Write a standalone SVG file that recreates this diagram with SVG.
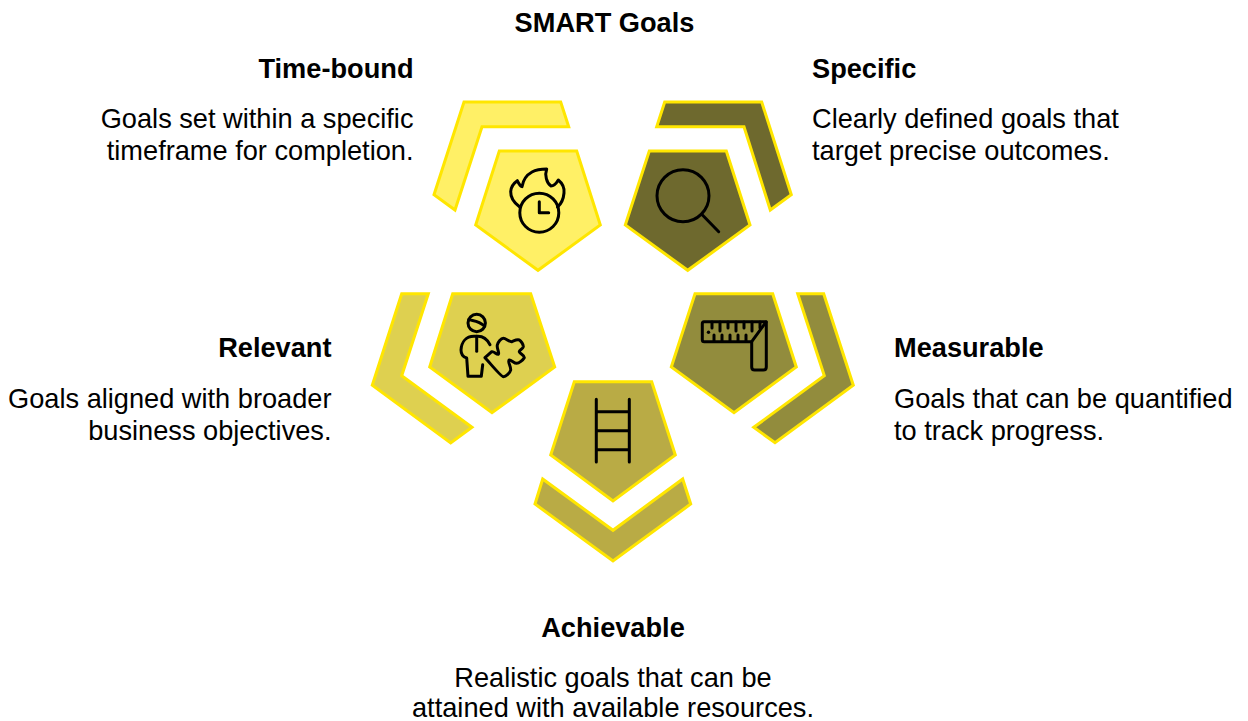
<svg xmlns="http://www.w3.org/2000/svg" width="1248" height="721" viewBox="0 0 1248 721">
<style>
text{font-family:"Liberation Sans",Arial,sans-serif;font-size:27.2px;fill:#000}
.h{font-weight:700}
.e{text-anchor:end}
.m{text-anchor:middle}
.s{stroke:#ffe600;stroke-width:3;stroke-linejoin:miter}
.i{fill:none;stroke:#000;stroke-width:3;stroke-linecap:round;stroke-linejoin:round}
</style>
<rect width="1248" height="721" fill="#fff"/>
<text class="h m" x="604.500" y="31.500">SMART Goals</text>
<g id="time-bound">
<polygon class="s" fill="#fff066" points="464,102 560.7,102 568.7,126.7 482,126.7 455,210 434,194.7"/>
<polygon class="s" fill="#fff066" points="499.3,151 576.7,151 600.3,225 538,270.3 475.7,225"/>
<g class="i"><circle cx="539.3" cy="212.7" r="19.500"/><path d="M539.3 201.7V212.7H548.7"/><path d="M519.500 206.700C513 202 510.500 197 510.700 191.500C511 187 514 183 517.300 180.700C518.500 183 520 186 522 186.700C523 180.500 526.500 175 532 172C536.500 169.500 541.500 169 546.700 169C544.500 175 546.500 183 551 186C554 186 556.500 183 558.300 180C562 183 564.500 188 564 193C563.500 199 561 204 557.500 207"/></g>
<text class="h e" x="413.500" y="78">Time-bound</text>
<text class="e" x="413.500" y="127.500">Goals set within a specific</text>
<text class="e" x="413.500" y="159.500">timeframe for completion.</text>
</g>
<g id="specific">
<polygon class="s" fill="#6e692e" points="664.7,102 761.7,102 791.3,194.7 770.3,210 744,126.7 656.7,126.7"/>
<polygon class="s" fill="#6e692e" points="649.3,151 726.3,151 750,225 687.7,270.3 625.3,225"/>
<g class="i"><circle cx="683" cy="195.700" r="26"/><path d="M701.700 214.300L718.700 231.700"/></g>
<text class="h" x="812" y="78">Specific</text>
<text x="812" y="127.500">Clearly defined goals that</text>
<text x="812" y="159.500">target precise outcomes.</text>
</g>
<g id="relevant">
<polygon class="s" fill="#ded050" points="401.7,293.700 428.3,293.700 401.7,375.700 472,427.300 450.700,443 372.300,385.300"/>
<polygon class="s" fill="#ded050" points="452.700,293.700 530.700,293.700 554.700,367 492,412.700 429.700,367"/>
<g class="i"><circle cx="476.700" cy="323" r="8.700"/><path d="M469 319.500C472 321 478 320 484.500 326"/><path d="M490 344.700C487 339 483 336.300 478 336.300H474C466 336.300 461.500 342 461 350C461 355 463 357 466.700 358L468 376.300H481.300L482.700 364.700"/><path d="M476.700 336.300V351.300"/><path d="M485 357.700L491.700 351.700C494 351 496 354.500 498.300 354.300C500 353 496.500 349 497.300 345C498 342 501 338.300 503.300 338.300C506 338.300 509 342 511.700 341.700C514 341 516 339.300 519.300 340C521 341 523.500 344.500 523.300 346.700C523 349 519 350 519.300 351.700C520 354 524.500 355 524.300 357.700C523 360 519 363.300 516.700 363.300C514 363.300 511 359.500 509.300 360C507 361 511 366 510.700 370C510 373 506 376.700 503.300 376.700C501 376.700 490 363 485 357.700Z"/></g>
<text class="h e" x="331.500" y="357">Relevant</text>
<text class="e" x="331.500" y="407.500">Goals aligned with broader</text>
<text class="e" x="331.500" y="439.500">business objectives.</text>
</g>
<g id="measurable">
<polygon class="s" fill="#928c3d" points="797.700,293.700 823.700,293.700 853.300,385.300 775,442.700 753.700,427.300 824.300,375.700"/>
<polygon class="s" fill="#928c3d" points="695,293.700 772.700,293.700 796.300,367 734,412.700 671.300,367"/>
<g class="i"><path d="M704 321.700H766.300V367C766.300 369 765 370 763.300 370H754.700C753 370 751.700 369 751.700 367V341.700H704.300C703 341.700 702.300 341 702.300 339.700V323.700C702.300 322.500 703 321.700 704 321.700Z"/><path d="M766 322L751.700 341.700"/><path d="M712 322V328M720 322V331M728 322V328M736 322V331M744 322V328M752 322V331M760 322V328M714 341V335M722 341V335M730 341V335M738 341V335M746 341V335"/></g>
<circle cx="708.500" cy="332.300" r="1.700"/>
<text class="h" x="894" y="357">Measurable</text>
<text x="894" y="407.500">Goals that can be quantified</text>
<text x="894" y="439.500">to track progress.</text>
</g>
<g id="achievable">
<polygon class="s" fill="#b9ab45" points="542.700,479 613,530.300 682.700,479 690.700,504 613,561 535,504"/>
<polygon class="s" fill="#b9ab45" points="574.300,381.700 651.700,381.700 675.300,455 613,501 550.700,455"/>
<g class="i"><path d="M596.300 399.300V462M629.300 399.300V462M596.300 411.700H629.300M596.300 430.700H629.300M596.300 449.700H629.300"/></g>
<text class="h m" x="613" y="637">Achievable</text>
<text class="m" x="613" y="686.500">Realistic goals that can be</text>
<text class="m" x="613" y="717">attained with available resources.</text>
</g>
<g id="connectors"/>
</svg>
